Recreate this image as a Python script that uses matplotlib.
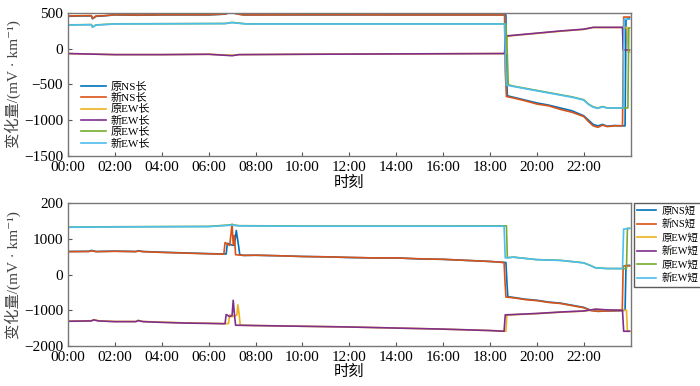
# -*- coding: utf-8 -*-
"""
长/短电极变化量对比图
"""

import numpy as np
import matplotlib
matplotlib.use('Agg')
from matplotlib import pyplot as plt

plt.rcParams['font.family'] = ['Liberation Serif', 'Noto Sans CJK SC', 'DejaVu Serif']
plt.rcParams['axes.unicode_minus'] = True

# colours (MATLAB style)
colors = ['#0072BD', '#D95319', '#EDB120', '#7E2F8E', '#77AC30', '#4DBEEE']

# ---------------- 长极距 ----------------
labels_long = ['原NS长', '新NS长', '原EW长', '新EW长', '原EW长', '新EW长']

t_ns_old_long = [0, 0.5, 1.0, 1.05, 1.2, 1.5, 2, 3, 4, 5, 6, 6.7, 6.9, 7.1, 7.3, 7.5, 8, 10, 12, 14, 16, 18,
                 18.68, 18.7, 18.74, 19, 19.5, 20, 20.5, 21, 21.5, 22, 22.2, 22.4, 22.6, 22.8, 23, 23.3, 23.76, 23.8, 23.95]
v_ns_old_long = [450, 455, 455, 415, 450, 455, 470, 465, 470, 470, 470, 480, 505, 495, 480, 470, 470, 470, 470, 470, 470, 470,
                 470, -300, -660, -680, -720, -760, -790, -830, -870, -940, -1000, -1060, -1080, -1060, -1085, -1075, -1080, 400, 430]

t_ns_new_long = [0, 0.5, 1.0, 1.05, 1.2, 1.5, 2, 3, 4, 5, 6, 6.7, 6.9, 7.1, 7.3, 7.5, 8, 10, 12, 14, 16, 18,
                 18.62, 18.65, 18.7, 19, 19.5, 20, 20.5, 21, 21.5, 22, 22.2, 22.4, 22.6, 22.8, 23, 23.3, 23.65, 23.7, 23.95]
v_ns_new_long = [455, 458, 460, 420, 455, 458, 472, 468, 472, 472, 472, 482, 500, 492, 478, 470, 470, 472, 472, 470, 470, 470,
                 470, -300, -670, -690, -730, -775, -800, -850, -890, -950, -1020, -1080, -1100, -1070, -1090, -1080, -1080, 440, 440]

t_ew_old_long = [0, 2, 4, 6, 7, 7.3, 10, 14, 18.7, 18.74, 19, 20, 21, 22, 22.4, 23, 23.85, 23.9, 23.95]
v_ew_old_long = [-70, -85, -85, -80, -95, -85, -80, -75, -70, 170, 182, 212, 242, 268, 294, 294, 294, -50, -50]

t_ew_new_long = [0, 2, 4, 6, 7, 7.3, 10, 14, 18.62, 18.66, 19, 20, 21, 22, 22.4, 23, 23.65, 23.68, 23.95]
v_ew_new_long = [-70, -85, -85, -80, -100, -85, -80, -75, -70, 175, 185, 215, 245, 270, 296, 296, 296, -20, -20]

t_ew_old2_long = [0, 1.0, 1.05, 1.2, 2, 6.7, 7.0, 7.3, 7.6, 18.68, 18.74, 18.78, 19, 19.5, 20, 20.5, 21, 21.5, 22,
                  22.2, 22.4, 22.6, 22.8, 23, 23.88, 23.92, 23.95]
v_ew_old2_long = [330, 335, 300, 330, 345, 350, 365, 355, 345, 345, -100, -505, -525, -555, -585, -615, -645, -675, -715,
                  -775, -815, -830, -810, -830, -830, 290, 290]

t_ew_new2_long = [0, 1.0, 1.05, 1.2, 2, 6.7, 7.0, 7.3, 7.6, 18.62, 18.66, 18.7, 19, 19.5, 20, 20.5, 21, 21.5, 22,
                  22.2, 22.4, 22.6, 22.8, 23, 23.68, 23.72, 23.95]
v_ew_new2_long = [328, 333, 298, 328, 343, 348, 362, 352, 343, 343, -100, -510, -530, -560, -590, -620, -650, -680, -720,
                  -780, -820, -835, -815, -830, -830, 410, 410]

# ---------------- 短极距 ----------------
labels_short = ['原NS短', '新NS短', '原EW短', '新EW短', '原EW短', '新EW短']

t_ns_old_short = [0, 0.9, 1.0, 1.2, 2, 2.9, 3.0, 3.2, 4, 5, 6, 6.75, 6.8, 7.0, 7.1, 7.18, 7.28, 7.33, 7.5, 8, 9, 10, 11,
                  12, 13, 14, 15, 16, 17, 18, 18.68, 18.72, 18.76, 19, 19.5, 20, 20.5, 21, 21.5, 22, 22.3, 22.6, 23,
                  23.6, 23.76, 23.8, 23.95]
v_ns_old_short = [650, 655, 680, 650, 660, 650, 670, 650, 630, 610, 590, 580, 880, 830, 820, 1240, 800, 560, 540, 545,
                  530, 510, 500, 480, 470, 470, 440, 430, 400, 370, 340, -200, -620, -640, -690, -720, -770, -800, -860,
                  -920, -1000, -1030, -1020, -1010, -1000, 260, 260]

t_ns_new_short = [0, 0.9, 1.0, 1.2, 2, 2.9, 3.0, 3.2, 4, 5, 6, 6.65, 6.7, 6.9, 7.0, 7.05, 7.1, 7.15, 7.5, 8, 9, 10, 11,
                  12, 13, 14, 15, 16, 17, 18, 18.6, 18.64, 18.68, 19, 19.5, 20, 20.5, 21, 21.5, 22, 22.3, 22.6, 23,
                  23.6, 23.64, 23.68, 23.95]
v_ns_new_short = [645, 650, 670, 645, 655, 645, 665, 645, 625, 605, 585, 575, 900, 820, 1420, 840, 1100, 560, 540, 545,
                  530, 510, 500, 485, 470, 470, 445, 430, 400, 370, 340, -200, -630, -650, -700, -730, -780, -810, -870,
                  -930, -1010, -1030, -1020, -1010, -1000, 245, 245]

t_ew_old_short = [0, 1, 1.1, 1.3, 2, 2.9, 3.0, 3.2, 4, 5, 6, 6.85, 6.9, 7.0, 7.1, 7.2, 7.25, 7.3, 7.35, 8, 10, 12, 14,
                  16, 18, 18.68, 18.72, 19, 20, 21, 22, 22.5, 23, 23.82, 23.86, 23.95]
v_ew_old_short = [-1305, -1295, -1265, -1295, -1315, -1315, -1285, -1315, -1335, -1355, -1365, -1375, -1130, -1180,
                  -1160, -1140, -850, -1100, -1420, -1430, -1450, -1470, -1500, -1530, -1570, -1590, -1140, -1125,
                  -1095, -1055, -1025, -975, -995, -1000, -1590, -1590]

t_ew_new_short = [0, 1, 1.1, 1.3, 2, 2.9, 3.0, 3.2, 4, 5, 6, 6.7, 6.75, 6.9, 7.0, 7.05, 7.1, 7.15, 8, 10, 12, 14,
                  16, 18, 18.6, 18.65, 19, 20, 21, 22, 22.5, 23, 23.65, 23.7, 23.95]
v_ew_new_short = [-1310, -1300, -1270, -1300, -1320, -1320, -1290, -1320, -1340, -1360, -1370, -1380, -1120, -1180,
                  -1150, -720, -1100, -1420, -1430, -1450, -1470, -1500, -1530, -1570, -1590, -1130, -1120, -1090,
                  -1050, -1020, -970, -990, -1000, -1590, -1590]

t_ew_old2_short = [0, 2, 6, 7, 7.3, 10, 14, 18.7, 18.74, 19, 20, 21, 22, 22.3, 22.5, 23, 23.82, 23.86, 23.95]
v_ew_old2_short = [1335, 1345, 1355, 1400, 1375, 1365, 1365, 1370, 475, 492, 422, 402, 332, 252, 192, 172, 170, 1300, 1300]

t_ew_new2_short = [0, 2, 6, 7, 7.3, 10, 14, 18.6, 18.65, 19, 20, 21, 22, 22.3, 22.5, 23, 23.65, 23.7, 23.95]
v_ew_new2_short = [1330, 1340, 1350, 1390, 1370, 1360, 1360, 1360, 470, 490, 420, 400, 330, 250, 190, 170, 170, 1280, 1300]

xtick_pos = list(range(0, 24, 2))
xtick_labels = ['%02d:00' % h for h in xtick_pos]
ylabel = '变化量/(mV · km\u207b\u00b9)'

fig = plt.figure(figsize=(7, 3.86), dpi=100)
ax1 = fig.add_axes([0.097, 0.596, 0.804, 0.371])
ax2 = fig.add_axes([0.097, 0.104, 0.804, 0.369])

top_data = [(t_ns_old_long, v_ns_old_long), (t_ns_new_long, v_ns_new_long),
            (t_ew_old_long, v_ew_old_long), (t_ew_new_long, v_ew_new_long),
            (t_ew_old2_long, v_ew_old2_long), (t_ew_new2_long, v_ew_new2_long)]
bot_data = [(t_ns_old_short, v_ns_old_short), (t_ns_new_short, v_ns_new_short),
            (t_ew_old_short, v_ew_old_short), (t_ew_new_short, v_ew_new_short),
            (t_ew_old2_short, v_ew_old2_short), (t_ew_new2_short, v_ew_new2_short)]

for (t, v), c, lab in zip(top_data, colors, labels_long):
    ax1.plot(t, v, color=c, lw=1.2, label=lab)
for (t, v), c, lab in zip(bot_data, colors, labels_short):
    ax2.plot(t, v, color=c, lw=1.2, label=lab)

for ax in (ax1, ax2):
    ax.set_xlim(0, 24)
    ax.set_xticks(xtick_pos)
    ax.set_xticklabels(xtick_labels)
    ax.tick_params(axis='both', direction='in', length=3, labelsize=11, color='#555555')
    for s in ax.spines.values():
        s.set_color('#777777')
        s.set_linewidth(1.0)
    ax.set_xlabel('时刻', fontsize=11, labelpad=1)
    ax.set_ylabel(ylabel, fontsize=11, labelpad=2, color='#444444')

ax1.set_ylim(-1500, 500)
ax1.set_yticks([-1500, -1000, -500, 0, 500])
ax2.set_ylim(-2000, 2000)
ax2.set_yticks([-2000, -1000, 0, 1000, 2000])
ax2.set_yticklabels(['\u22122000', '\u22121000', '0', '1000', '200'])

ax1.legend(loc='lower left', bbox_to_anchor=(0.01, -0.005), frameon=False, fontsize=8,
           handlelength=2.2, labelspacing=0.12, handletextpad=0.4, borderpad=0.2)
ax2.legend(loc='upper left', bbox_to_anchor=(1.006, 1.0), frameon=True, fancybox=False,
           edgecolor='#333333', fontsize=7.5, handlelength=1.8, labelspacing=0.35,
           handletextpad=0.5, borderpad=0.3, borderaxespad=0.0)

fig.savefig('out.png', dpi=100)
